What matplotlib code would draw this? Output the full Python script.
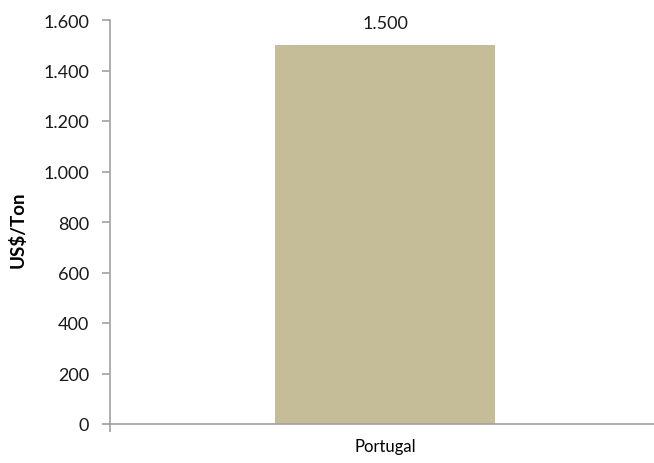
import matplotlib
matplotlib.use("Agg")
import matplotlib.pyplot as plt
from matplotlib.ticker import FuncFormatter, FixedLocator

categories = ["Portugal"]
values = [1500]
y_ticks = [0, 200, 400, 600, 800, 1000, 1200, 1400, 1600]

plt.rcParams['font.family'] = ['Lato', 'DejaVu Sans']

fig = plt.figure(figsize=(6.54, 4.64), dpi=100)
ax = fig.add_axes([110/654, 39/464, 1 - 110/654 + 0.01, 404/464])

x = list(range(len(categories)))
bars = ax.bar(x, values, width=0.4, color="#C4BD97", zorder=2)

def fmt(v, pos=None):
    return f"{int(v):,}".replace(",", ".")

for xi, v in zip(x, values):
    ax.text(xi, v + 55, fmt(v), ha="center", va="bottom", fontsize=13, color="#1a1a1a")

ax.set_xlim(-0.5, len(categories) - 0.5)
ax.set_ylim(0, 1600)
ax.yaxis.set_major_locator(FixedLocator(y_ticks))
ax.yaxis.set_major_formatter(FuncFormatter(fmt))
ax.set_xticks(x)
ax.set_xticklabels(categories, fontsize=12)
ax.xaxis.set_minor_locator(FixedLocator([i - 0.5 for i in range(len(categories) + 1)]))
ax.tick_params(axis="x", which="major", length=0, pad=10)
ax.tick_params(axis="x", which="minor", length=6, color="#A0A0A0", width=1.2)
ax.tick_params(axis="y", length=6, color="#A0A0A0", width=1.2, labelsize=13, pad=9,
               labelcolor="#1a1a1a")

for s in ["top", "right"]:
    ax.spines[s].set_visible(False)
for s in ["left", "bottom"]:
    ax.spines[s].set_color("#A0A0A0")
    ax.spines[s].set_linewidth(1.2)

fig.text(18/654, 1 - 230/464, "US$/Ton", rotation=90, fontsize=13.5, fontweight="bold",
         ha="center", va="center")

fig.savefig("out.png", dpi=100)
